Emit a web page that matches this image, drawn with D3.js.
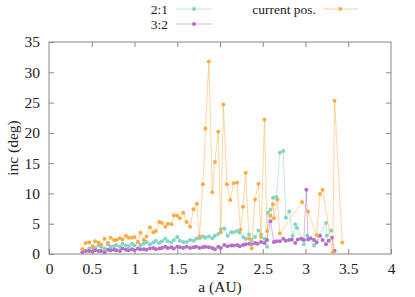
<!DOCTYPE html>
<html>
<head>
<meta charset="utf-8">
<script src="https://cdn.jsdelivr.net/npm/d3@7"></script>
<style>
  body { margin: 0; background: #fff; }
  svg text { font-family: "Liberation Serif", "Times New Roman", serif; fill: #222; }
</style>
</head>
<body>
<svg id="mySvg" width="415" height="297"></svg>
<script>
var svg = d3.select("#mySvg");

// 2:1 resonance
const a21 = [0.47, 0.51, 0.54, 0.58, 0.61, 0.65, 0.69, 0.72, 0.76, 0.79, 0.83, 0.86, 0.90, 0.93, 0.97, 1.00,
    1.04, 1.07, 1.11, 1.14, 1.18, 1.22, 1.25, 1.29, 1.32, 1.36, 1.39, 1.43, 1.46, 1.50, 1.53, 1.57, 1.61,
    1.65, 1.69, 1.72, 1.76, 1.80, 1.83, 1.87, 1.91, 1.94, 1.98, 2.01, 2.05, 2.09, 2.13, 2.16, 2.20, 2.23,
    2.27, 2.30, 2.34, 2.37, 2.41, 2.45, 2.48, 2.52, 2.55, 2.56, 2.59, 2.62, 2.66, 2.70, 2.74, 2.77, 2.81,
    2.85, 2.88, 2.90, 2.98, 3.02, 3.10, 3.24, 3.25, 3.30];
const inc21 = [0.9, 1.3, 1.0, 1.4, 1.2, 0.9, 1.6, 1.2, 1.3, 1.5, 1.2, 1.7, 1.4, 1.3, 1.7, 1.4,
    2.0, 1.5, 1.7, 2.0, 1.6, 1.9, 2.2, 1.8, 2.1, 2.5, 2.1, 1.9, 2.3, 2.8, 2.2, 2.0, 2.0,
    2.3, 2.2, 2.5, 2.6, 2.9, 2.7, 2.9, 2.6, 3.0, 3.3, 4.1, 4.2, 3.0, 3.6, 3.6, 3.8, 3.5,
    2.8, 2.5, 3.2, 2.3, 2.8, 3.9, 3.2, 2.5, 1.2, 6.8, 7.3, 9.3, 9.4, 16.7, 17.0, 6.0, 7.0,
    3.0, 4.9, 4.3, 1.6, 3.0, 1.4, 5.1, 3.0, 3.9];

// 3:2 resonance
const a32 = [0.39, 0.43, 0.47, 0.51, 0.54, 0.58, 0.61, 0.65, 0.69, 0.72, 0.76, 0.79, 0.83, 0.86, 0.90, 0.93,
    0.97, 1.00, 1.04, 1.07, 1.11, 1.14, 1.18, 1.22, 1.25, 1.29, 1.32, 1.36, 1.39, 1.43, 1.46, 1.50, 1.53,
    1.57, 1.61, 1.65, 1.69, 1.72, 1.76, 1.80, 1.83, 1.87, 1.91, 1.94, 1.98, 2.01, 2.05, 2.09, 2.13, 2.16,
    2.20, 2.23, 2.27, 2.30, 2.34, 2.37, 2.41, 2.44, 2.48, 2.52, 2.55, 2.59, 2.63, 2.66, 2.70, 2.74, 2.77,
    2.81, 2.84, 2.88, 2.91, 2.95, 2.98, 3.01, 3.03, 3.06, 3.10, 3.13, 3.17, 3.20, 3.24, 3.27, 3.31, 3.34];
const inc32 = [0.3, 0.5, 0.5, 0.4, 0.6, 0.5, 0.5, 0.3, 0.7, 0.6, 0.7, 0.6, 0.5, 0.9, 0.7, 0.6,
    0.8, 0.6, 0.9, 0.8, 0.8, 0.7, 0.9, 1.0, 0.8, 0.9, 1.0, 1.2, 1.0, 1.1, 0.9, 1.2, 1.1,
    1.0, 1.2, 1.0, 1.1, 1.2, 1.0, 1.1, 1.2, 1.1, 1.0, 0.8, 1.2, 1.0, 1.5, 1.3, 1.4, 1.4,
    1.5, 1.3, 1.5, 1.6, 1.7, 1.6, 1.8, 1.7, 2.0, 1.8, 2.3, 5.4, 2.0, 2.1, 2.1, 2.5, 2.2,
    2.3, 2.4, 1.8, 2.4, 2.5, 2.3, 10.6, 2.4, 2.6, 2.3, 1.9, 3.0, 2.3, 1.6, 2.2, 2.7, 0.5];

// current position
const aCur = [0.39, 0.43, 0.47, 0.51, 0.54, 0.58, 0.61, 0.65, 0.69, 0.72, 0.76, 0.79, 0.83, 0.86, 0.90, 0.93,
    0.97, 1.00, 1.04, 1.07, 1.11, 1.14, 1.18, 1.22, 1.25, 1.29, 1.32, 1.36, 1.39, 1.43, 1.46, 1.50, 1.53,
    1.57, 1.61, 1.65, 1.69, 1.73, 1.76, 1.80, 1.83, 1.87, 1.91, 1.94, 1.98, 2.01, 2.04, 2.08, 2.12, 2.16,
    2.20, 2.24, 2.27, 2.30, 2.34, 2.37, 2.41, 2.45, 2.48, 2.52, 2.55, 2.59, 2.62, 2.63, 2.67, 2.70, 2.96,
    3.03, 3.13, 3.17, 3.20, 3.32, 3.34, 3.43];
const incCur = [0.8, 1.8, 1.9, 1.1, 2.1, 1.9, 1.5, 2.5, 1.8, 2.7, 2.3, 2.3, 2.6, 2.4, 3.0, 2.7,
    2.7, 2.8, 1.9, 3.5, 2.3, 2.9, 4.4, 3.6, 3.8, 5.3, 5.1, 4.5, 5.0, 4.9, 6.4, 6.3, 5.9,
    6.8, 5.3, 4.5, 7.4, 8.3, 2.9, 11.5, 20.7, 31.8, 10.2, 15.2, 20.2, 3.6, 24.7, 11.5, 8.9, 11.7,
    11.8, 4.0, 7.8, 13.4, 2.5, 0.9, 9.0, 11.6, 2.8, 22.2, 3.8, 6.3, 8.2, 5.9, 9.0, 3.4, 8.6,
    7.0, 3.1, 9.9, 10.6, 0.3, 25.3, 1.9];

const xTicks = [0, 0.5, 1, 1.5, 2, 2.5, 3, 3.5, 4];
const yTicks = [0, 5, 10, 15, 20, 25, 30, 35];

const colTeal = "#7fd6c2";
const colPurple = "#b46fc8";
const colOrange = "#ffab45";

const plotLeft = 49, plotRight = 391, plotTop = 42, plotBottom = 254;
const fontSize = "15.5px";

var x = d3.scaleLinear().domain([0, 4]).range([plotLeft, plotRight]);
var y = d3.scaleLinear().domain([0, 35]).range([plotBottom, plotTop]);

// ticks on all four sides, pointing inward
var axisCol = "#888";
var tickLen = 5;
svg.append("g").attr("transform", `translate(0,${plotBottom})`)
    .call(d3.axisBottom(x).tickValues(xTicks).tickSizeInner(-tickLen).tickSizeOuter(0).tickPadding(9)
        .tickFormat(d3.format("")))
    .call(g => g.select(".domain").remove());
svg.append("g").attr("transform", `translate(0,${plotTop})`)
    .call(d3.axisTop(x).tickValues(xTicks.slice(1, -1)).tickSizeInner(-tickLen).tickSizeOuter(0).tickFormat(""))
    .call(g => g.select(".domain").remove());
svg.append("g").attr("transform", `translate(${plotLeft},0)`)
    .call(d3.axisLeft(y).tickValues(yTicks).tickSizeInner(-tickLen).tickSizeOuter(0).tickPadding(9))
    .call(g => g.select(".domain").remove());
svg.append("g").attr("transform", `translate(${plotRight},0)`)
    .call(d3.axisRight(y).tickValues(yTicks.slice(1, -1)).tickSizeInner(-tickLen).tickSizeOuter(0).tickFormat(""))
    .call(g => g.select(".domain").remove());

svg.selectAll(".tick line").attr("stroke", axisCol);
svg.selectAll("g").attr("font-family", null).attr("font-size", null);
svg.selectAll(".tick text")
    .style("font-size", fontSize)
    .attr("fill", "#222");

svg.append("rect")
    .attr("x", plotLeft).attr("y", plotTop)
    .attr("width", plotRight - plotLeft).attr("height", plotBottom - plotTop)
    .attr("fill", "none").attr("stroke", axisCol).attr("stroke-width", 1);

// series
function drawSeries(xs, ys, color) {
    var pts = xs.map((d, i) => [d, ys[i]]);
    var line = d3.line().x(d => x(d[0])).y(d => y(d[1]));
    svg.append("path")
        .datum(pts)
        .attr("d", line)
        .attr("fill", "none")
        .attr("stroke", color)
        .attr("stroke-opacity", 0.5)
        .attr("stroke-width", 1);
    svg.append("g").selectAll("circle")
        .data(pts)
        .enter()
        .append("circle")
        .attr("cx", d => x(d[0]))
        .attr("cy", d => y(d[1]))
        .attr("r", 2)
        .attr("fill", color);
}

drawSeries(a21, inc21, colTeal);
drawSeries(a32, inc32, colPurple);
drawSeries(aCur, incCur, colOrange);

// legend
function legendEntry(label, tx, ty, x0, x1, color) {
    svg.append("text").attr("x", tx).attr("y", ty + 4.5).attr("text-anchor", "end")
        .style("font-size", "13.5px").text(label);
    svg.append("line").attr("x1", x0).attr("x2", x1).attr("y1", ty).attr("y2", ty)
        .attr("stroke", color).attr("stroke-opacity", 0.5).attr("stroke-width", 1);
    svg.append("circle").attr("cx", (x0 + x1) / 2).attr("cy", ty).attr("r", 2).attr("fill", color);
}
legendEntry("2:1", 168, 9, 176, 212, colTeal);
legendEntry("3:2", 168, 24, 176, 212, colPurple);
legendEntry("current pos.", 316, 9, 323, 358, colOrange);

// axis labels
svg.append("text").attr("x", (plotLeft + plotRight) / 2).attr("y", 292).attr("text-anchor", "middle")
    .style("font-size", fontSize).text("a (AU)");
svg.append("text").attr("transform", `translate(18,${(plotTop + plotBottom) / 2}) rotate(-90)`)
    .attr("text-anchor", "middle").style("font-size", fontSize).text("inc (deg)");
</script>
</body>
</html>
